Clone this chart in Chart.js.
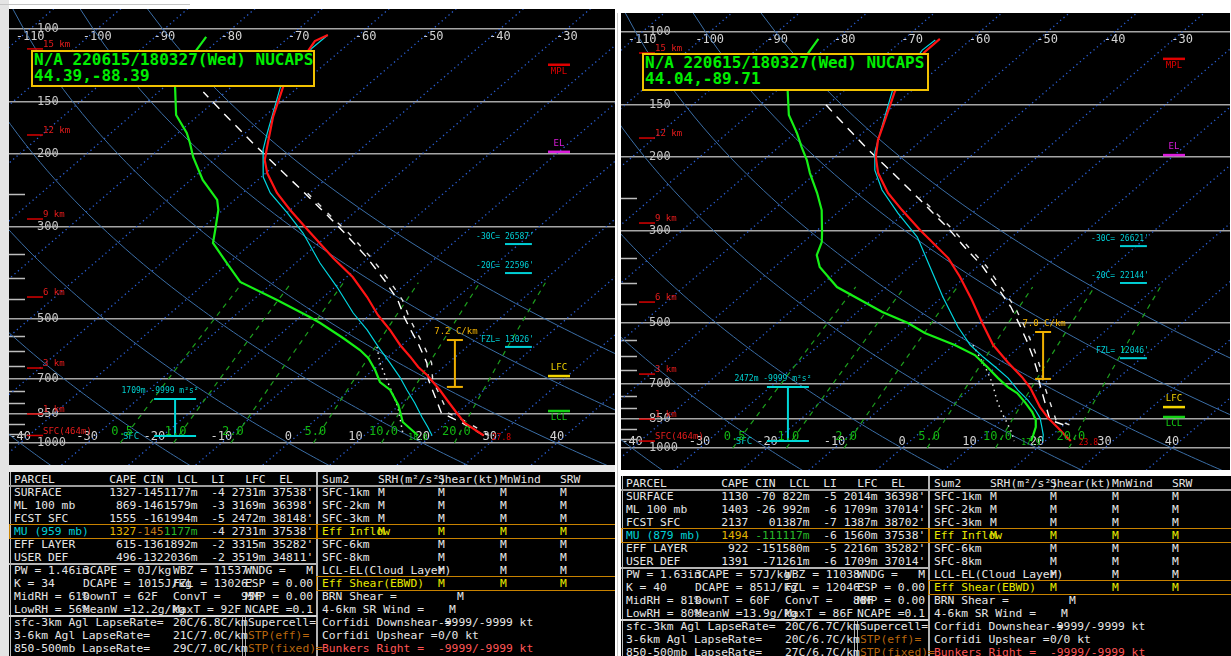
<!DOCTYPE html>
<html lang="en">
<head>
<meta charset="utf-8">
<title>NUCAPS soundings 220615/180327</title>
<script src="https://cdn.jsdelivr.net/npm/chart.js@4.4.1/dist/chart.umd.min.js"></script>
<style>
  html, body { margin: 0; padding: 0; }
  body { width: 1231px; height: 656px; position: relative; overflow: hidden; background: #ffffff; }
  .strip { position: absolute; }
  .panel { position: absolute; background: #000; overflow: hidden; }
  .panel canvas { position: absolute; left: 0; top: 0; }
  .stamp { position: absolute; box-sizing: border-box; border: 2px solid #f2c200; background: #000; color: #00ee00;
           font: bold 16px "DejaVu Sans Mono", monospace; line-height: 16px; white-space: pre; padding: 0 0 0 1px; }
  .tbl { position: absolute; background: #000; overflow: hidden; font: 11.3px "DejaVu Sans Mono", monospace; }
  .tbl span { position: absolute; white-space: pre; line-height: 13px; color: #e6e6e6; }
  .tbl span span { position: static; }
  .tbl i { position: absolute; display: block; box-sizing: border-box; }
</style>
</head>
<body>
<div class="strip" style="left:0;top:0;width:9px;height:656px;background:#e4e4e4"></div>
<div class="strip" style="left:0;top:4px;width:190px;height:1px;background:#c4c4c4"></div>
<div class="strip" style="left:9px;top:465px;width:606px;height:7px;background:#e8e8e8"></div>
<div class="strip" style="left:617px;top:13px;width:1px;height:643px;background:#c8c8c8"></div>

<div class="panel" id="panelA" style="left:9px;top:9px;width:606px;height:456px">
  <canvas id="skewA" width="606" height="456"></canvas>
  <div class="stamp" id="stampA" style="left:22px;top:41px;width:284px;height:37px"></div>
</div>
<div class="panel" id="panelB" style="left:621px;top:13px;width:609px;height:457px">
  <canvas id="skewB" width="609" height="457"></canvas>
  <div class="stamp" id="stampB" style="left:21px;top:40px;width:287px;height:38px"></div>
</div>
<div class="tbl" id="tableA" style="left:9px;top:472px;width:606px;height:184px"></div>
<div class="tbl" id="tableB" style="left:621px;top:476px;width:610px;height:180px"></div>

<script>
// ---------------- diagram constants ----------------
const SKEW = 71.5;                       // isotherm shift (°C) per decade of pressure
const P_TICKS = [100, 150, 200, 300, 500, 700, 850, 1000];
const P_MINOR = [250, 350, 400, 450, 550, 600, 650, 750, 800, 900, 950];
const ISOTHERMS = [-110, -100, -90, -80, -70, -60, -50, -40, -30, -20, -10, 0, 10, 20, 30, 40];
const ADIABATS = [-40, -20, 0, 20, 40, 60, 80];          // potential temperature, °C at 1000 hPa
const MIX_RATIOS = [0.5, 1, 2, 5, 10, 20];               // g/kg
const MIX_LABELS = ['0.5', '1.0', '2.0', '5.0', '10.0', '20.0'];
const KM_LABELS = ['15 km', '12 km', '9 km', '6 km', '3 km', '1 km', 'SFC(464m)'];

// ---------------- sounding A : 44.39,-88.39 ----------------
const A_STAMP = ['N/A 220615/180327(Wed) NUCAPS', '44.39,-88.39'];
const A_TEMP_P = [103.4, 106.9, 138.0, 163.2, 192.8, 207.3, 222.8, 248.9, 273.6, 305.9, 357.3, 397.2, 443.9, 490.6, 533.3, 579.7, 619.6, 655.1, 685.0, 712.3, 744.7, 787.2, 846.2, 894.9, 959];
const A_TEMP_T = [-64.6, -65.5, -62.3, -58.6, -54.3, -52.4, -49.8, -44.9, -40.0, -33.9, -25.3, -19.1, -13.5, -8.8, -4.4, -0.3, 3.3, 6.2, 8.9, 11.0, 13.4, 16.2, 19.9, 22.8, 27.8];
const A_DWPT_P = [104.5, 114.3, 138.0, 161.3, 178.3, 188.5, 203.8, 231.6, 258.8, 273.6, 305.9, 328.7, 367.4, 408.4, 451.5, 496.1, 513.0, 557.7, 596.3, 623.1, 666.2, 712.3, 744.7, 809.6, 841.6, 889.7, 959];
const A_DWPT_T = [-82.4, -81.4, -78.4, -73.4, -68.7, -66.5, -63.6, -58.2, -52.6, -50.7, -47.7, -45.8, -40.3, -35.0, -26.4, -18.6, -16.0, -10.0, -5.4, -2.8, 0.3, 3.1, 6.0, 9.8, 11.3, 13.4, 18.0];
const A_WETB_P = [103.4, 111.1, 138.0, 178.3, 196.0, 227.8, 248.9, 278.2, 311.0, 367.4, 420.0, 485.3, 533.3, 586.1, 640.6, 692.9, 744.7, 800.2, 865.5, 915.1, 959];
const A_WETB_T = [-64.6, -64.7, -62.7, -56.7, -54.4, -49.7, -45.9, -39.9, -34.1, -26.4, -19.7, -12.8, -7.8, -3.2, 1.3, 5.2, 8.5, 11.9, 15.4, 18.0, 20.1];
const A_PARC_P = [959, 889.7, 846.2, 704.4, 640.6, 579.7, 533.3, 498.7, 451.5, 406.2, 357.3, 312.7, 284.4, 247.5, 216.6, 189.6, 164.1, 142.0];
const A_PARC_T = [27.8, 22.0, 17.6, 10.0, 6.8, 2.5, -1.3, -4.3, -8.4, -13.6, -20.2, -27.6, -33.0, -41.1, -49.0, -56.8, -65.1, -73.3];
const A_VPAR_P = [959, 889.7, 846.2, 704.4, 640.6, 579.7, 533.3, 498.7, 451.5, 406.2, 357.3, 312.7, 284.4, 247.5];
const A_VPAR_T = [28.6, 23.0, 18.6, 10.6, 7.5, 3.2, -0.6, -3.6, -7.7, -12.9, -19.6, -27.0, -32.6, -40.7];
const A_DOWN_P = [586.1, 640.6, 704.4, 765.9, 818.6, 865.5, 930.2, 959];
const A_DOWN_T = [-3.4, -0.2, 3.8, 7.3, 10.1, 12.1, 14.7, 15.8];
const A_KM_P = [111.7, 180.3, 287.7, 444, 659, 851, 959];
const A_LEVEL_P = [689, 837, 198, 122];                  // LFC, LCL, EL, MPL
const A_TLEVEL_P = [330.7, 388.6, 586];                  // -30C, -20C, freezing level
const A_TLEVEL_FT = ["26587'", "22596'", "13026'"];
const A_LAPSE = [24.8, 564, 732, 7.2];                   // skewed x, top p, bottom p, C/km
const A_SRH = [-16.9, 783, 962, 1709];                   // skewed x, top p, bottom p, depth m
const A_SFC_LABEL = ['18.0', '27.8'];

// ---------------- sounding B : 44.04,-89.71 ----------------
const B_STAMP = ['N/A 220615/180327(Wed) NUCAPS', '44.04,-89.71'];
const B_TEMP_P = [103.9, 111.7, 138.6, 162.7, 181.8, 199.7, 218.3, 243.8, 267.9, 299.2, 349.4, 388.0, 440.6, 500.6, 565.4, 621.5, 675.2, 717.3, 797.0, 847.0, 895.3, 941, 962];
const B_TEMP_T = [-64.7, -64.7, -62.4, -58.9, -56.5, -53.9, -50.8, -45.9, -40.9, -34.8, -25.8, -20.8, -15.1, -9.6, -4.2, 0.9, 5.6, 8.7, 13.4, 16.5, 19.7, 22.5, 23.8];
const B_DWPT_P = [103.9, 112.3, 138.6, 158.3, 174.9, 189.0, 203.1, 218.3, 243.8, 267.9, 304.2, 319.7, 343.6, 367.2, 410.2, 471.0, 500.6, 529.0, 565.4, 597.6, 638.5, 678.9, 713.4, 737.5, 775.2, 819.3, 856.3, 890.0, 930.6, 962];
const B_DWPT_T = [-82.7, -81.8, -78.3, -74.0, -69.7, -66.6, -63.6, -60.9, -56.4, -52.8, -48.8, -47.3, -45.8, -43.3, -37.3, -26.3, -20.6, -16.4, -9.9, -5.2, -1.3, 2.2, 5.2, 7.6, 10.3, 13.1, 15.0, 16.2, 17.2, 17.9];
const B_WETB_P = [104.5, 110.5, 138.6, 174.9, 194.3, 214.7, 239.8, 272.3, 311.0, 359.1, 433.5, 511.8, 565.4, 604.3, 638.5, 678.9, 725.4, 766.8, 810, 847, 890, 930.6, 962];
const B_WETB_T = [-65.2, -65.4, -62.8, -57.4, -54.9, -51.8, -47.3, -41.0, -34.0, -27.9, -19.9, -12.5, -7.6, -3.6, -0.1, 3.7, 7.2, 10.4, 13.2, 15.3, 17.1, 18.7, 19.6];
const B_PARC_P = [879, 856.3, 701.7, 649.5, 597.6, 553.0, 506.2, 458.2, 412.5, 365.1, 332.3, 295.9, 249.2, 218.3, 190.1, 174.9, 160.1, 145.7];
const B_PARC_T = [19.9, 17.1, 9.4, 6.6, 3.3, 0.1, -3.7, -8.1, -13.3, -19.4, -24.7, -31.0, -40.9, -48.6, -56.8, -61.5, -66.5, -71.7];
const B_VPAR_P = [879, 856.3, 701.7, 649.5, 597.6, 553.0, 506.2, 458.2, 412.5, 365.1, 332.3, 295.9, 249.2];
const B_VPAR_T = [20.8, 18.0, 10.0, 7.2, 3.9, 0.7, -3.1, -7.5, -12.7, -18.8, -24.1, -30.5, -40.5];
const B_DOWN_P = [565.4, 638.5, 697.7, 766.8, 824.0, 870.9, 920, 962];
const B_DOWN_T = [-7.2, -1.6, 2.2, 5.8, 8.8, 11.3, 13.7, 15.4];
const B_KM_P = [112.3, 179.8, 287.8, 445.7, 664, 852, 962];
const B_LEVEL_P = [797, 842, 197.6, 116];
const B_TLEVEL_P = [327, 401, 608];
const B_TLEVEL_FT = ["26621'", "22144'", "12046'"];
const B_LAPSE = [20.9, 526, 682, 7.0];
const B_SRH = [-16.9, 713, 962, 2472];
const B_SFC_LABEL = ['17.9', '23.8'];

// ---------------- geometry helpers ----------------
function skewX(t, p) { return t + SKEW * Math.log10(1000 / p); }
function profile(pres, temps) { return pres.map((p, i) => ({ x: skewX(temps[i], p), y: p })); }
function isotherm(t) { return [1150, 85].map(p => ({ x: skewX(t, p), y: p })); }
function dryAdiabat(thetaC) {
  const th = thetaC + 273.15, pts = [];
  for (let p = 1150; p > 85; p -= 10) pts.push({ x: skewX(th * Math.pow(p / 1000, 0.2857) - 273.15, p), y: p });
  pts.push({ x: skewX(th * Math.pow(85 / 1000, 0.2857) - 273.15, 85), y: 85 });
  return pts;
}
function mixDewpoint(w, p) {
  const e = w * p / (622 + w), l = Math.log(e / 6.112);
  return 243.5 * l / (17.67 - l);
}
function mixLine(w) {
  const pts = [];
  for (let p = 1000; p > 410; p -= 30) pts.push({ x: skewX(mixDewpoint(w, p), p), y: p });
  pts.push({ x: skewX(mixDewpoint(w, 410), 410), y: 410 });
  return pts;
}
function lineSet(data, color, width, dash, order) {
  return { data, showLine: true, borderColor: color, borderWidth: width, borderDash: dash,
           pointRadius: 0, pointHoverRadius: 0, fill: false, tension: 0, order };
}

// ---------------- annotation layer ----------------
const SOUNDING_OF = new Map();
function hseg(ctx, x0, x1, y, color, w) {
  ctx.strokeStyle = color; ctx.lineWidth = w;
  ctx.beginPath(); ctx.moveTo(x0, y); ctx.lineTo(x1, y); ctx.stroke();
}
function vseg(ctx, x, y0, y1, color, w) {
  ctx.strokeStyle = color; ctx.lineWidth = w;
  ctx.beginPath(); ctx.moveTo(x, y0); ctx.lineTo(x, y1); ctx.stroke();
}
function txt(ctx, s, x, y, color, size, align) {
  ctx.font = size + 'px "DejaVu Sans Mono"';
  ctx.fillStyle = color; ctx.textAlign = align || 'left'; ctx.textBaseline = 'middle';
  ctx.fillText(s, x, y);
}

const skewAnnotations = {
  id: 'skewAnnotations',
  beforeDatasetsDraw(chart) {
    const s = SOUNDING_OF.get(chart.canvas);
    if (!s) return;
    const { ctx, chartArea: a, scales: { y } } = chart;
    ctx.save();
    for (const p of P_MINOR) hseg(ctx, a.left, a.left + 16, Math.round(y.getPixelForValue(p)) + 0.5, '#bdbdbd', 1.5);
    ctx.restore();
  },
  afterDatasetsDraw(chart) {
    const s = SOUNDING_OF.get(chart.canvas);
    if (!s) return;
    const { ctx, chartArea: a, scales: { x, y } } = chart;
    const Y = p => y.getPixelForValue(p);
    ctx.save();

    // height markers
    s.kmP.forEach((p, i) => {
      const py = Y(p);
      hseg(ctx, a.left + 18, a.left + 34, py, '#d80000', 1.5);
      txt(ctx, KM_LABELS[i], a.left + 34, py - 4, '#e81c1c', 9);
    });

    // parcel levels on the right edge
    const levels = [['LFC', '#f2d400', -8], ['LCL', '#14d014', 7], ['EL', '#dc1cdc', -8], ['MPL', '#e00000', 7]];
    levels.forEach(([name, color, dy], i) => {
      const py = Y(s.levelP[i]);
      hseg(ctx, a.right - 67, a.right - 45, py, color, 2.5);
      txt(ctx, name, a.right - 56, py + dy, color, 9, 'center');
    });

    // temperature levels
    const prefixes = ['-30C= ', '-20C= ', 'FZL= '];
    s.tLevelP.forEach((p, i) => {
      const py = Y(p), vx = a.right - 110;
      txt(ctx, prefixes[i], vx, py - 7, '#00cfd6', 8, 'right');
      txt(ctx, s.tLevelFt[i], vx, py - 7, '#00cfd6', 8);
      ctx.font = '8px "DejaVu Sans Mono"';
      hseg(ctx, vx, vx + ctx.measureText(s.tLevelFt[i]).width - 2, py, '#00cfd6', 2);
    });

    // lapse-rate bracket
    {
      const bx = x.getPixelForValue(s.lapse[0]), t = Y(s.lapse[1]), b = Y(s.lapse[2]);
      vseg(ctx, bx, t, b, '#f0b000', 2);
      hseg(ctx, bx - 8, bx + 8, t, '#f0b000', 2);
      hseg(ctx, bx - 8, bx + 8, b, '#f0b000', 2);
      txt(ctx, s.lapse[3].toFixed(1) + ' C/km', bx + 1, t - 8, '#f0b000', 9, 'center');
    }

    // storm-relative helicity bracket
    {
      const bx = x.getPixelForValue(s.srh[0]), t = Y(s.srh[1]), b = Y(s.srh[2]);
      vseg(ctx, bx, t, b, '#00d8d8', 2);
      hseg(ctx, bx - 21, bx + 21, t, '#00d8d8', 2);
      hseg(ctx, bx - 21, bx + 21, b, '#00d8d8', 2);
      txt(ctx, s.srh[3] + 'm -9999 m²s²', bx - 15, t - 8, '#00d0d0', 8, 'center');
      txt(ctx, 'SFC', bx - 44, b + 1, '#00c8c8', 9, 'center');
    }

    // mixing-ratio labels along 1000 hPa
    const p1000 = Y(1000);
    MIX_RATIOS.forEach((w, i) => {
      txt(ctx, MIX_LABELS[i], x.getPixelForValue(skewX(mixDewpoint(w, 1000), 1000)) + 2, p1000 - 11, '#12b812', 12, 'center');
    });

    // surface temperature / dewpoint values
    const sp = s.dwptP[s.dwptP.length - 1];
    txt(ctx, s.sfcLabel[0], x.getPixelForValue(skewX(s.dwptT[s.dwptT.length - 1], sp)), Y(sp) + 2, '#10c010', 8, 'center');
    const tp = s.tempP[s.tempP.length - 1];
    txt(ctx, s.sfcLabel[1], x.getPixelForValue(skewX(s.tempT[s.tempT.length - 1], tp)) + 8, Y(tp) + 2, '#e00000', 8, 'left');

    ctx.restore();
  }
};

const zeroPad = sc => { sc.paddingLeft = sc.paddingRight = sc.paddingTop = sc.paddingBottom = 0; };
const TICK_FONT = { family: 'DejaVu Sans Mono', size: 12 };

function drawSkewT(canvas, s, view) {
  SOUNDING_OF.set(canvas, s);
  const datasets = [
    lineSet(profile(s.tempP, s.tempT), '#ff1414', 2.2, [], 1),
    lineSet(profile(s.dwptP, s.dwptT), '#16f016', 2.2, [], 2),
    lineSet(profile(s.wetbP, s.wetbT), '#00d6e0', 1.2, [], 3),
    lineSet(profile(s.parcP, s.parcT), '#ffffff', 1.4, [9, 7], 4),
    lineSet(profile(s.vparP, s.vparT), '#e0e0e0', 1.4, [5, 9], 4),
    lineSet(profile(s.downP, s.downT), '#e6e6e6', 1.5, [1.5, 4], 5),
    ...MIX_RATIOS.map(w => lineSet(mixLine(w), '#1d9e1d', 1.2, [5, 5], 8)),
    ...ADIABATS.map(th => lineSet(dryAdiabat(th), '#3b6ea6', 1, [], 9)),
    ...ISOTHERMS.map(t => lineSet(isotherm(t), '#2a5ed2', 1.3, [1.3, 3.2], 10))
  ];
  return new Chart(canvas, {
    type: 'scatter',
    data: { datasets },
    options: {
      responsive: false, animation: false, events: [],
      layout: { padding: 0, autoPadding: false },
      plugins: { legend: { display: false }, tooltip: { enabled: false }, title: { display: false } },
      scales: {
        x: {
          type: 'linear', min: view.xMin, max: view.xMax, position: { y: 1000 }, afterFit: zeroPad,
          grid: { display: false, drawTicks: false }, border: { display: false },
          ticks: { stepSize: 10, includeBounds: false, autoSkip: false, maxRotation: 0, mirror: true, padding: 1,
                   color: '#d4d4d4', font: TICK_FONT, callback: v => String(v) }
        },
        x2: {
          type: 'linear', min: view.xMin - SKEW, max: view.xMax - SKEW, position: { y: 100 }, afterFit: zeroPad,
          grid: { display: false, drawTicks: false }, border: { display: false },
          ticks: { stepSize: 10, includeBounds: false, autoSkip: false, maxRotation: 0, padding: 1,
                   color: '#d4d4d4', font: TICK_FONT, callback: v => String(v) }
        },
        y: {
          type: 'logarithmic', reverse: true, min: view.pMin, max: view.pMax, position: 'left',
          afterFit: sc => { zeroPad(sc); sc.width = 0; },
          afterBuildTicks: sc => { sc.ticks = P_TICKS.map(v => ({ value: v })); },
          grid: { color: '#a6a6a6', lineWidth: 1.6, drawTicks: false }, border: { display: false },
          ticks: { mirror: true, padding: 28, autoSkip: false, color: '#c6c6c6', font: TICK_FONT, callback: v => String(v) }
        }
      }
    },
    plugins: [skewAnnotations]
  });
}

const SOUNDING_A = {
  tempP: A_TEMP_P, tempT: A_TEMP_T, dwptP: A_DWPT_P, dwptT: A_DWPT_T, wetbP: A_WETB_P, wetbT: A_WETB_T,
  parcP: A_PARC_P, parcT: A_PARC_T, vparP: A_VPAR_P, vparT: A_VPAR_T, downP: A_DOWN_P, downT: A_DOWN_T,
  kmP: A_KM_P, levelP: A_LEVEL_P, tLevelP: A_TLEVEL_P, tLevelFt: A_TLEVEL_FT, lapse: A_LAPSE, srh: A_SRH, sfcLabel: A_SFC_LABEL
};
const SOUNDING_B = {
  tempP: B_TEMP_P, tempT: B_TEMP_T, dwptP: B_DWPT_P, dwptT: B_DWPT_T, wetbP: B_WETB_P, wetbT: B_WETB_T,
  parcP: B_PARC_P, parcT: B_PARC_T, vparP: B_VPAR_P, vparT: B_VPAR_T, downP: B_DOWN_P, downT: B_DOWN_T,
  kmP: B_KM_P, levelP: B_LEVEL_P, tLevelP: B_TLEVEL_P, tLevelFt: B_TLEVEL_FT, lapse: B_LAPSE, srh: B_SRH, sfcLabel: B_SFC_LABEL
};

Chart.defaults.font.family = 'DejaVu Sans Mono';
drawSkewT(document.getElementById('skewA'), SOUNDING_A, { xMin: -41.65, xMax: 48.66, pMin: 89.47, pMax: 1130.1 });
drawSkewT(document.getElementById('skewB'), SOUNDING_B, { xMin: -41.63, xMax: 48.59, pMin: 90.0, pMax: 1129 });
document.getElementById('stampA').textContent = A_STAMP.join('\n');
document.getElementById('stampB').textContent = B_STAMP.join('\n');

// ---------------- parameter tables ----------------
const TXT_COLORS = { w: '#e4e4e4', c: '#00d0d6', g: '#e2b400', b: '#c27a1a', gr: '#28b828', y: '#e8e800', r: '#ff5656', s: '#b8660e' };

const A_TABLE = [
  [5, 0, "PARCEL        CAPE CIN  LCL  LI   LFC  EL"],
  [5, 1, "SURFACE       1327-1451177m  -4 2731m 37538'"],
  [5, 2, "ML 100 mb      869-1461579m  -3 3169m 36398'"],
  [5, 3, "FCST SFC      1555 -161994m  -5 2472m 38148'"],
  [5, 4, [["MU (959 mb)   ", 'c'], ["1327", 'g'], ["-145", 'b'], ["1177m", 'gr'], ["  -4 2731m 37538'", 'w']]],
  [5, 5, "EFF LAYER      615-1361892m  -2 3315m 35282'"],
  [5, 6, "USER DEF       496-1322036m  -2 3519m 34811'"],
  [5, 7, "PW = 1.46in"], [74, 7, "3CAPE = 0J/kg"], [164, 7, "WBZ = 11537'"], [236, 7, "WNDG =   M"],
  [5, 8, "K = 34"], [74, 8, "DCAPE = 1015J/kg"], [164, 8, "FZL = 13026'"], [236, 8, "ESP = 0.00"],
  [5, 9, "MidRH = 61%"], [74, 9, "DownT = 62F"], [164, 9, "ConvT =   95F"], [236, 9, "MMP = 0.00"],
  [5, 10, "LowRH = 56%"], [74, 10, "MeanW =12.2g/kg"], [164, 10, "MaxT = 92F"], [236, 10, "NCAPE =0.1"],
  [5, 11, "sfc-3km Agl LapseRate="], [164, 11, "20C/6.8C/km"], [239, 11, "Supercell="],
  [5, 12, "3-6km Agl LapseRate="], [164, 12, "21C/7.0C/km"], [239, 12, [["STP(eff)=", 's']]],
  [5, 13, "850-500mb LapseRate="], [164, 13, "29C/7.0C/km"], [239, 13, [["STP(fixed)=", 's']]]
];
const B_TABLE = [
  [5, 0, "PARCEL        CAPE CIN  LCL  LI   LFC  EL"],
  [5, 1, "SURFACE       1130 -70 822m  -5 2014m 36398'"],
  [5, 2, "ML 100 mb     1403 -26 992m  -6 1709m 37014'"],
  [5, 3, "FCST SFC      2137   01387m  -7 1387m 38702'"],
  [5, 4, [["MU (879 mb)   ", 'c'], ["1494", 'g'], [" -111117m", 'gr'], ["  -6 1560m 37538'", 'w']]],
  [5, 5, "EFF LAYER      922 -151580m  -5 2216m 35282'"],
  [5, 6, "USER DEF      1391  -71261m  -6 1709m 37014'"],
  [5, 7, "PW = 1.63in"], [74, 7, "3CAPE = 57J/kg"], [164, 7, "WBZ = 11038'"], [236, 7, "WNDG =   M"],
  [5, 8, "K = 40"], [74, 8, "DCAPE = 851J/kg"], [164, 8, "FZL = 12046'"], [236, 8, "ESP = 0.00"],
  [5, 9, "MidRH = 81%"], [74, 9, "DownT = 60F"], [164, 9, "ConvT =   88F"], [236, 9, "MMP = 0.00"],
  [5, 10, "LowRH = 80%"], [74, 10, "MeanW =13.9g/kg"], [164, 10, "MaxT = 86F"], [236, 10, "NCAPE =0.1"],
  [5, 11, "sfc-3km Agl LapseRate="], [164, 11, "20C/6.7C/km"], [239, 11, "Supercell="],
  [5, 12, "3-6km Agl LapseRate="], [164, 12, "20C/6.7C/km"], [239, 12, [["STP(eff)=", 's']]],
  [5, 13, "850-500mb LapseRate="], [164, 13, "27C/6.7C/km"], [239, 13, [["STP(fixed)=", 's']]]
];
// kinematic summary, identical layout in both tables (no wind data available)
const SUMMARY_TABLE = [
  [313, 0, "Sum2"], [369, 0, "SRH(m²/s²)"], [429, 0, "Shear(kt)"], [491, 0, "MnWind"], [551, 0, "SRW"],
  [313, 1, "SFC-1km"], [369, 1, "M"], [429, 1, "M"], [491, 1, "M"], [551, 1, "M"],
  [313, 2, "SFC-2km"], [369, 2, "M"], [429, 2, "M"], [491, 2, "M"], [551, 2, "M"],
  [313, 3, "SFC-3km"], [369, 3, "M"], [429, 3, "M"], [491, 3, "M"], [551, 3, "M"],
  [313, 4, [["Eff Inflow", 'y']]], [369, 4, [["M", 'y']]], [429, 4, [["M", 'y']]], [491, 4, [["M", 'y']]], [551, 4, [["M", 'y']]],
  [313, 5, "SFC-6km"], [429, 5, "M"], [491, 5, "M"], [551, 5, "M"],
  [313, 6, "SFC-8km"], [429, 6, "M"], [491, 6, "M"], [551, 6, "M"],
  [313, 7, "LCL-EL(Cloud Layer)"], [429, 7, "M"], [491, 7, "M"], [551, 7, "M"],
  [313, 8, [["Eff Shear(EBWD)", 'y']]], [429, 8, [["M", 'y']]], [491, 8, [["M", 'y']]], [551, 8, [["M", 'y']]],
  [313, 9, "BRN Shear ="], [448, 9, "M"],
  [313, 10, "4-6km SR Wind ="], [440, 10, "M"],
  [313, 11, "Corfidi Downshear ="], [429, 11, "-9999/-9999 kt"],
  [313, 12, "Corfidi Upshear ="], [429, 12, "0/0 kt"],
  [313, 13, [["Bunkers Right =", 'r']]], [429, 13, [["-9999/-9999 kt", 'r']]]
];
// separators: x, y, width, height, colour, outline only
const TABLE_RULES = [
  [1, 0, 1, 184, '#bcbcbc'],
  [0, 13, 620, 2, '#9c9c9c'],
  [307, 0, 2, 184, '#b4b4b4'],
  [0, 91, 308, 2, '#b4b4b4'],
  [0, 143, 308, 2, '#d2d2d2'],
  [233, 144, 1, 40, '#b0b0b0'],
  [236, 144, 1, 40, '#b0b0b0'],
  [0, 52, 309, 15, '#c88200', true],
  [307, 52, 320, 15, '#c88200', true],
  [307, 104, 320, 15, '#c88200', true]
];

function buildTable(el, cells) {
  for (const [x, y, w, h, color, outline] of TABLE_RULES) {
    const r = document.createElement('i');
    Object.assign(r.style, { left: x + 'px', top: y + 'px', width: w + 'px', height: h + 'px' });
    if (outline) r.style.border = '1.5px solid ' + color; else r.style.background = color;
    el.appendChild(r);
  }
  for (const [x, row, content] of cells) {
    const sp = document.createElement('span');
    sp.style.left = x + 'px';
    sp.style.top = (row * 13 + 1) + 'px';
    if (typeof content === 'string') sp.textContent = content;
    else for (const [t, c] of content) {
      const part = document.createElement('span');
      part.textContent = t; part.style.color = TXT_COLORS[c];
      sp.appendChild(part);
    }
    el.appendChild(sp);
  }
}
buildTable(document.getElementById('tableA'), A_TABLE.concat(SUMMARY_TABLE));
buildTable(document.getElementById('tableB'), B_TABLE.concat(SUMMARY_TABLE));
</script>
</body>
</html>
